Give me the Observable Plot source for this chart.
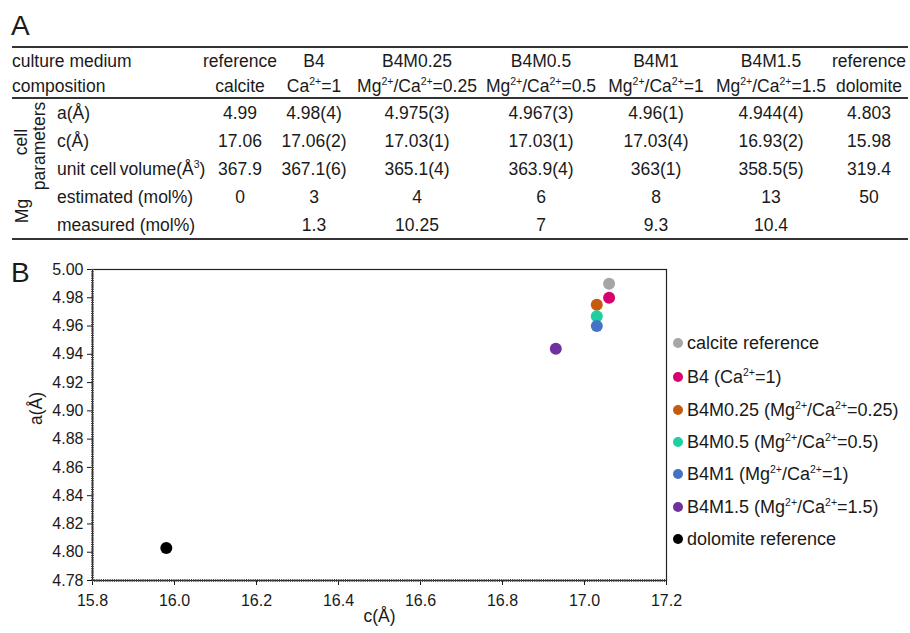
<!DOCTYPE html>
<html>
<head>
<meta charset="utf-8">
<script src="https://cdn.jsdelivr.net/npm/d3@7"></script>
<script src="https://cdn.jsdelivr.net/npm/@observablehq/plot@0.6"></script>
<style>
  body { margin: 0; background: #fff; font-family: "Liberation Sans", Arial, sans-serif; color: #1a1a1a; }
  #root { position: relative; width: 910px; height: 633px; overflow: hidden; }
  .panel { position: absolute; left: 11px; font-size: 28px; line-height: 30px; }
  .cell { position: absolute; font-size: 17.5px; line-height: 20px; height: 20px; white-space: nowrap; }
  .c { width: 200px; text-align: center; }
  .hline { position: absolute; left: 12px; width: 896px; background: #333; }
  .rot { position: absolute; font-size: 17.5px; line-height: 20px; white-space: nowrap; transform: translate(-50%, -50%) rotate(-90deg); }
  sup { font-size: 10.5px; line-height: 0; vertical-align: 7px; }
  .lg { position: absolute; font-size: 18px; line-height: 20px; white-space: nowrap; }
  .lgdot { position: absolute; width: 10px; height: 10px; border-radius: 50%; }
  #chart { position: absolute; left: 0; top: 250px; }
</style>
</head>
<body>
<div id="root">
  <div class="panel" style="top:11px">A</div>
  <div class="panel" style="top:258px">B</div>
  <div id="chart"></div>
</div>
<script>
// ---- data ----
const samples = ["calcite reference", "B4", "B4M0.25", "B4M0.5", "B4M1", "B4M1.5", "dolomite reference"];
const legendLabels = ["calcite reference", "B4 (Ca2+=1)", "B4M0.25 (Mg2+/Ca2+=0.25)", "B4M0.5 (Mg2+/Ca2+=0.5)", "B4M1 (Mg2+/Ca2+=1)", "B4M1.5 (Mg2+/Ca2+=1.5)", "dolomite reference"];
const cValues = [17.06, 17.06, 17.03, 17.03, 17.03, 16.93, 15.98];
const aValues = [4.99, 4.98, 4.975, 4.967, 4.96, 4.944, 4.803];
const colors = ["#a6a6a6", "#d6006f", "#c55a11", "#1ecf9f", "#4472c4", "#7030a0", "#000000"];
const xTicks = [15.8, 16.0, 16.2, 16.4, 16.6, 16.8, 17.0, 17.2];
const yTicks = [4.78, 4.80, 4.82, 4.84, 4.86, 4.88, 4.90, 4.92, 4.94, 4.96, 4.98, 5.00];

const tableMedium = ["reference", "B4", "B4M0.25", "B4M0.5", "B4M1", "B4M1.5", "reference"];
const tableComposition = ["calcite", "Ca2+=1", "Mg2+/Ca2+=0.25", "Mg2+/Ca2+=0.5", "Mg2+/Ca2+=1", "Mg2+/Ca2+=1.5", "dolomite"];
const rowA = ["4.99", "4.98(4)", "4.975(3)", "4.967(3)", "4.96(1)", "4.944(4)", "4.803"];
const rowC = ["17.06", "17.06(2)", "17.03(1)", "17.03(1)", "17.03(4)", "16.93(2)", "15.98"];
const rowV = ["367.9", "367.1(6)", "365.1(4)", "363.9(4)", "363(1)", "358.5(5)", "319.4"];
const rowEst = ["0", "3", "4", "6", "8", "13", "50"];
const rowMeas = ["", "1.3", "10.25", "7", "9.3", "10.4", ""];
const rowLabels = ["culture medium", "composition", "a(Å)", "c(Å)", "unit cell\u2009volume(Å3)", "estimated (mol%)", "measured (mol%)"];

// ---- layout ----
const colCenters = [240, 314, 417, 541, 656, 771, 869];
const rowCenters = [61, 86, 113, 141, 169, 197, 225];
const root = document.getElementById("root");
const sup = s => s.replace(/(Mg|Ca)2\+/g, "$1<sup>2+</sup>").replace(/Å3/g, "Å<sup>3</sup>");

function add(html, cls, style) {
  const d = document.createElement("div");
  d.className = cls;
  d.innerHTML = html;
  Object.assign(d.style, style);
  root.appendChild(d);
  return d;
}

// table lines
add("", "hline", {top: "46px", height: "2px"});
add("", "hline", {top: "97px", height: "1.5px"});
add("", "hline", {top: "238px", height: "2px"});

const rows = [tableMedium, tableComposition, rowA, rowC, rowV, rowEst, rowMeas];
rows.forEach((row, ri) => {
  const y = rowCenters[ri];
  add(sup(rowLabels[ri]), "cell", {left: (ri < 2 ? 12 : 57) + "px", top: (y - 10) + "px"});
  row.forEach((v, ci) => {
    add(sup(v), "cell c", {left: (colCenters[ci] - 100) + "px", top: (y - 10) + "px"});
  });
});
add("cell", "rot", {left: "21px", top: "142px"});
add("parameters", "rot", {left: "39px", top: "146px"});
add("Mg", "rot", {left: "22px", top: "211px"});

// legend
const legendY = [343, 377, 410, 442, 474, 507, 539];
legendLabels.forEach((l, i) => {
  add("", "lgdot", {left: "673px", top: (legendY[i] - 5) + "px", background: colors[i]});
  add(sup(l), "lg", {left: "687px", top: (legendY[i] - 10) + "px"});
});

// ---- chart ----
const data = samples.map((s, i) => ({sample: s, c: cValues[i], a: aValues[i]}));
const chart = Plot.plot({
  width: 910,
  height: 383,
  marginLeft: 92,
  marginRight: 244,
  marginTop: 19,
  marginBottom: 53,
  style: {fontFamily: "Liberation Sans, Arial, sans-serif", fontSize: "16px", color: "#1a1a1a", background: "transparent"},
  x: {domain: [15.8, 17.2], ticks: xTicks, tickFormat: d3.format(".1f"), label: null, tickSize: 5, tickPadding: 9},
  y: {domain: [4.78, 5.00], ticks: yTicks, tickFormat: d3.format(".2f"), label: null, tickSize: 5, tickPadding: 4},
  color: {domain: samples, range: colors},
  marks: [
    Plot.frame({stroke: "#222", strokeWidth: 1.2}),
    Plot.ruleY([4.78], {stroke: "#444", strokeWidth: 3, strokeDasharray: "1,1.2"}),
    Plot.ruleX([15.8], {stroke: "#444", strokeWidth: 3, strokeDasharray: "1,1.2"}),
    Plot.dot(data, {x: "c", y: "a", fill: "sample", r: 6}),
    Plot.text(["a(Å)"], {frameAnchor: "left", dx: -56, rotate: -90, fontSize: 17.5}),
    Plot.text(["c(Å)"], {frameAnchor: "bottom", dy: 41, fontSize: 17.5})
  ]
});
document.getElementById("chart").appendChild(chart);
</script>
</body>
</html>
